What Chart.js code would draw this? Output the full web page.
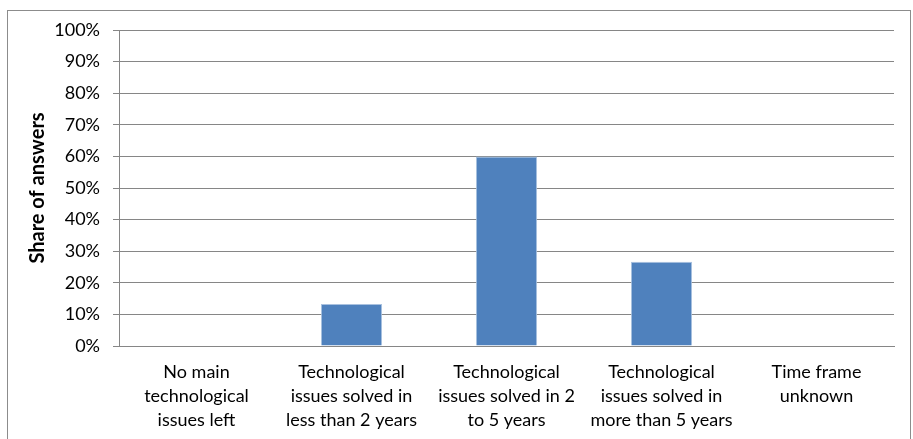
<!DOCTYPE html>
<html>
<head>
<meta charset="utf-8">
<script src="https://cdn.jsdelivr.net/npm/chart.js@4/dist/chart.umd.min.js"></script>
<style>
html,body{margin:0;padding:0;background:#fff;}
#wrap{position:relative;width:913px;height:439px;}
</style>
</head>
<body>
<div id="wrap"><canvas id="c" width="913" height="439"></canvas></div>
<script>
const categories = [
  ["No main", "technological", "issues left"],
  ["Technological", "issues solved in", "less than 2 years"],
  ["Technological", "issues solved in 2", "to 5 years"],
  ["Technological", "issues solved in", "more than 5 years"],
  ["Time frame", "unknown"]
];
const shareValues = [0, 13.33, 60, 26.67, 0];
const yTicks = [0, 10, 20, 30, 40, 50, 60, 70, 80, 90, 100];
const yTitle = "Share of answers";

const FONT = "Lato, 'Liberation Sans', sans-serif";

const borderPlugin = {
  id: 'outerBorder',
  beforeDraw(chart) {
    const ctx = chart.ctx;
    ctx.save();
    ctx.fillStyle = '#fff';
    ctx.fillRect(0, 0, chart.width, chart.height);
    ctx.strokeStyle = '#8c8c8c';
    ctx.lineWidth = 1;
    ctx.strokeRect(7.5, 10.5, 903, 500);
    ctx.restore();
  }
};

new Chart(document.getElementById('c'), {
  type: 'bar',
  data: {
    labels: categories,
    datasets: [{
      data: shareValues,
      backgroundColor: '#4F81BD',
      borderColor: '#a9c1df',
      borderWidth: 1,
      categoryPercentage: 1,
      barPercentage: 0.395
    }]
  },
  options: {
    responsive: false,
    animation: false,
    devicePixelRatio: 1,
    layout: { padding: { left: 0, right: 19, top: 30, bottom: 0 } },
    plugins: { legend: { display: false }, tooltip: { enabled: false } },
    scales: {
      x: {
        grid: { display: false, drawTicks: false },
        border: { color: '#868686', width: 1 },
        ticks: {
          color: '#000',
          font: { family: FONT, size: 18, lineHeight: 1.34 },
          padding: 14,
          maxRotation: 0,
          autoSkip: false
        },
        afterFit(s) { s.height = 93; }
      },
      y: {
        min: 0, max: 100,
        afterBuildTicks(s) { s.ticks = yTicks.map(v => ({ value: v })); },
        grid: { color: '#868686', lineWidth: 1, tickLength: 6, drawTicks: true },
        border: { color: '#868686', width: 1 },
        ticks: {
          color: '#000',
          font: { family: FONT, size: 18 },
          padding: 13,
          callback: v => v + '%'
        },
        title: {
          display: true,
          text: yTitle,
          color: '#000',
          font: { family: FONT, size: 20, weight: 'bold' },
          padding: { top: 26, bottom: 0 }
        },
        afterFit(s) { s.width = 119; }
      }
    }
  },
  plugins: [borderPlugin]
});
</script>
</body>
</html>
